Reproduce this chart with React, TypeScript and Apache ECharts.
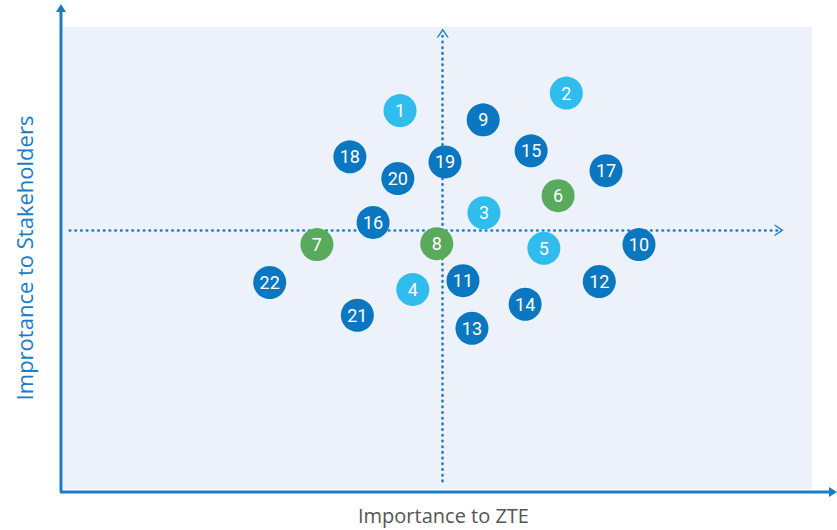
import React, { useEffect, useRef } from "react";
import * as echarts from "echarts";

// [x, y, id]
const darkStakeholders: [number, number, string][] = [
  [56.1, 79.9, "9"], [76.9, 52.9, "10"], [53.4, 45.1, "11"], [71.6, 44.9, "12"],
  [54.6, 34.8, "13"], [61.7, 40.0, "14"], [62.5, 73.2, "15"], [41.4, 57.7, "16"],
  [72.5, 68.9, "17"], [38.3, 71.9, "18"], [51.0, 70.8, "19"], [44.7, 67.2, "20"],
  [39.3, 37.6, "21"], [27.6, 44.7, "22"],
];
const lightStakeholders: [number, number, string][] = [
  [45.0, 81.9, "1"], [67.2, 85.7, "2"], [56.2, 59.8, "3"], [46.7, 43.2, "4"], [64.2, 52.1, "5"],
];
const greenStakeholders: [number, number, string][] = [
  [66.1, 63.5, "6"], [33.9, 52.9, "7"], [49.9, 53.1, "8"],
];
const midX = 50.7;
const midY = 56.0;
const xAxisTitle = "Importance to ZTE";
const yAxisTitle = "Improtance to Stakeholders";

const AXIS_BLUE = "#1a7cc6";
const chevron = "path://M0,9 L10,0 L20,9 L17.5,9 L10,2.5 L2.5,9 Z";

export default function App() {
  const ref = useRef<HTMLDivElement>(null);
  useEffect(() => {
    if (!ref.current) return;
    document.body.style.margin = "0";
    const chart = echarts.init(ref.current, undefined, { renderer: "svg" });
    const labelStyle = {
      show: true,
      position: "inside" as const,
      color: "#ffffff",
      fontSize: 18,
      fontFamily: "Roboto, 'Open Sans', sans-serif",
      formatter: (p: any) => p.data[2],
    };
    const mk = (name: string, data: any[], color: string) => ({
      type: "scatter",
      name,
      data,
      symbol: "circle",
      symbolSize: 33,
      itemStyle: { color, opacity: 1 },
      label: labelStyle,
      z: 5,
    });
    chart.setOption({
      animation: false,
      grid: {
        left: 63,
        top: 27,
        width: 749,
        height: 463,
        show: true,
        backgroundColor: "#edf1fa",
        borderWidth: 0,
      },
      xAxis: {
        type: "value",
        min: 0,
        max: 100,
        axisLine: { show: false },
        axisTick: { show: false },
        axisLabel: { show: false },
        splitLine: { show: false },
        name: xAxisTitle,
        nameLocation: "middle",
        nameGap: 16,
        nameTextStyle: {
          color: "#555555",
          fontSize: 20,
          fontFamily: "'Open Sans', sans-serif",
          padding: [0, 0, 0, 12],
        },
      },
      yAxis: {
        type: "value",
        min: 0,
        max: 100,
        axisLine: { show: false },
        axisTick: { show: false },
        axisLabel: { show: false },
        splitLine: { show: false },
        name: yAxisTitle,
        nameLocation: "middle",
        nameGap: 28,
        nameRotate: 90,
        nameTextStyle: { color: AXIS_BLUE, fontSize: 22, fontFamily: "'Open Sans', sans-serif" },
      },
      graphic: [
        { type: "line", shape: { x1: 61, y1: 8, x2: 61, y2: 492 }, style: { stroke: AXIS_BLUE, lineWidth: 3 } },
        { type: "polygon", shape: { points: [[61, 4], [56, 12], [66, 12]] }, style: { fill: AXIS_BLUE } },
        { type: "line", shape: { x1: 60, y1: 492, x2: 832, y2: 492 }, style: { stroke: AXIS_BLUE, lineWidth: 3 } },
        { type: "polygon", shape: { points: [[837, 492], [829, 487], [829, 497]] }, style: { fill: AXIS_BLUE } },
      ],
      series: [
        {
          type: "scatter",
          data: [],
          markLine: {
            silent: true,
            symbol: ["none", chevron],
            symbolSize: [12, 9],
            label: { show: false },
            lineStyle: { color: AXIS_BLUE, type: [0.5, 5.2], width: 2.6, cap: "round" },
            data: [
              [{ coord: [midX, 1.7] }, { coord: [midX, 98.7] }],
              [{ coord: [0.9, midY] }, { coord: [95.6, midY] }],
            ],
          },
        },
        mk("dark", darkStakeholders, "#0b77c0"),
        mk("light", lightStakeholders, "#30bdee"),
        mk("green", greenStakeholders, "#5aaa5e"),
      ],
    });
    return () => chart.dispose();
  }, []);
  return <div ref={ref} style={{ width: 837, height: 530 }} />;
}
